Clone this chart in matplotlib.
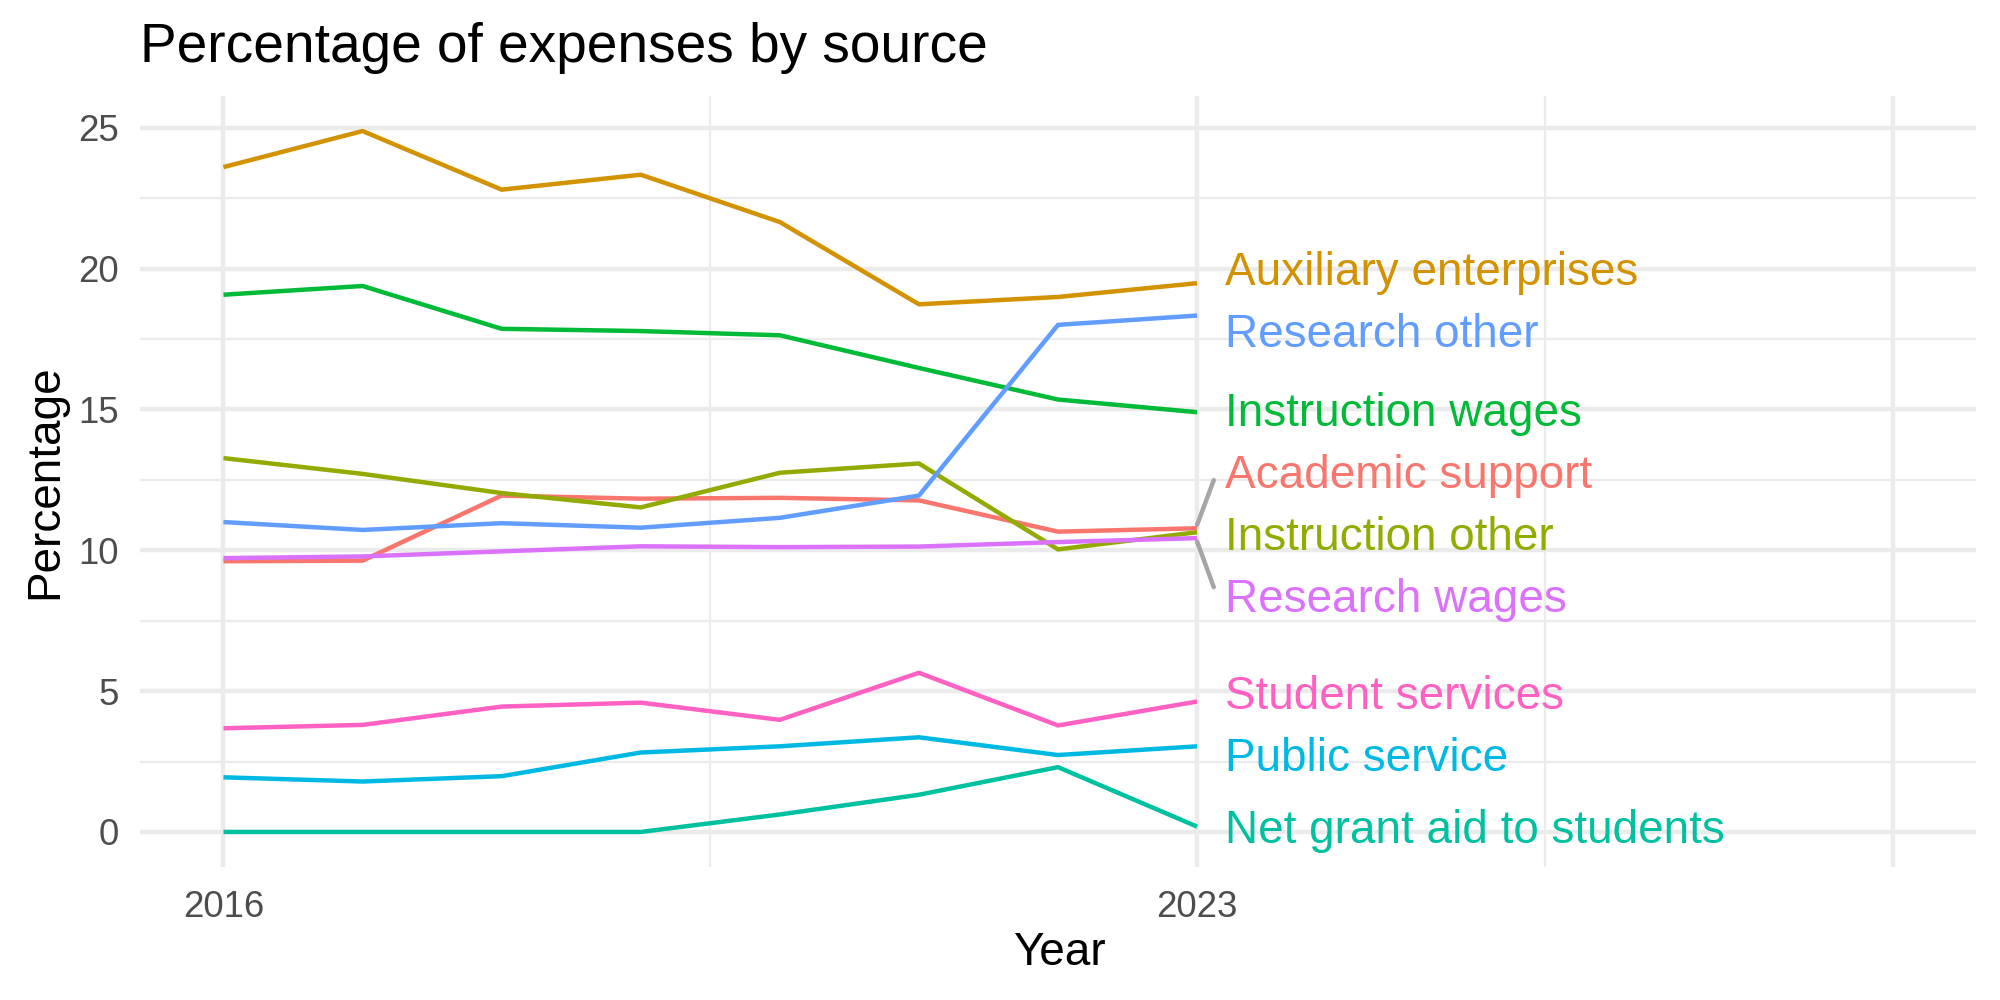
import numpy as np
import matplotlib
matplotlib.use("Agg")
import matplotlib.pyplot as plt

plt.rcParams['font.family'] = ['Liberation Sans', 'DejaVu Sans']

years = [2016, 2017, 2018, 2019, 2020, 2021, 2022, 2023]

academic_support = [9.61, 9.63, 11.94, 11.83, 11.86, 11.77, 10.66, 10.78]
auxiliary_enterprises = [23.60, 24.88, 22.80, 23.33, 21.65, 18.73, 18.99, 19.48]
instruction_other = [13.27, 12.71, 12.03, 11.52, 12.75, 13.08, 10.03, 10.64]
instruction_wages = [19.07, 19.38, 17.86, 17.78, 17.63, 16.47, 15.35, 14.90]
net_grant_aid = [0.0, 0.0, 0.0, 0.0, 0.62, 1.32, 2.30, 0.19]
public_service = [1.94, 1.79, 1.98, 2.82, 3.04, 3.36, 2.73, 3.04]
research_other = [11.00, 10.72, 10.96, 10.80, 11.15, 11.94, 18.00, 18.33]
research_wages = [9.72, 9.78, 9.96, 10.14, 10.11, 10.13, 10.29, 10.43]
student_services = [3.68, 3.80, 4.45, 4.59, 3.98, 5.65, 3.78, 4.63]

series_names = ["Academic support", "Auxiliary enterprises", "Instruction other",
                "Instruction wages", "Net grant aid to students", "Public service",
                "Research other", "Research wages", "Student services"]
series_values = [academic_support, auxiliary_enterprises, instruction_other,
                 instruction_wages, net_grant_aid, public_service,
                 research_other, research_wages, student_services]
colors = ["#F8766D", "#D39200", "#93AA00", "#00BA38", "#00C19F",
          "#00B9E3", "#619CFF", "#DB72FB", "#FF61C3"]

x_breaks = [2016, 2023, 2028]
x_labels = ["2016", "2023", ""]
x_minor = [2019.5, 2025.5]
y_breaks = [0, 5, 10, 15, 20, 25]
y_minor = [2.5, 7.5, 12.5, 17.5, 22.5]

fig = plt.figure(figsize=(2000 / 300, 1000 / 300), dpi=300)
ax = fig.add_axes([0.070, 0.133, 0.918, 0.771])

for name, vals, col in zip(series_names, series_values, colors):
    ax.plot(years, vals, color=col, lw=1.07, zorder=3, solid_capstyle='butt')

# limits with ggplot-like 5% expansion
xlo, xhi = 2016, 2028
ymax = max(max(v) for v in series_values)
ymin = min(min(v) for v in series_values)
ax.set_xlim(xlo - 0.05 * (xhi - xlo), xhi + 0.05 * (xhi - xlo))
ax.set_ylim(ymin - 0.05 * (ymax - ymin), ymax + 0.05 * (ymax - ymin))

ax.set_xticks(x_breaks, labels=x_labels)
ax.set_xticks(x_minor, minor=True)
ax.set_yticks(y_breaks, labels=[str(v) for v in y_breaks])
ax.set_yticks(y_minor, minor=True)
ax.grid(which='major', color='#EBEBEB', lw=1.07, zorder=0)
ax.grid(which='minor', color='#EBEBEB', lw=0.53, zorder=0)
ax.set_axisbelow(True)
for s in ax.spines.values():
    s.set_visible(False)
ax.tick_params(which='both', length=0)
ax.tick_params(axis='y', pad=5, labelsize=8.8, labelcolor='#4D4D4D')
ax.tick_params(axis='x', pad=5.5, labelsize=8.8, labelcolor='#4D4D4D')

# simple repel of end labels
end_vals = np.array([v[-1] for v in series_values])
gap = 2.2
order = list(np.argsort(end_vals))
clusters = [[i] for i in order]


def cluster_pos(c):
    c_sorted = sorted(c, key=lambda i: end_vals[i])
    center = np.mean(end_vals[c_sorted])
    n = len(c_sorted)
    return {i: center + (k - (n - 1) / 2) * gap for k, i in enumerate(c_sorted)}


changed = True
while changed:
    changed = False
    for j in range(len(clusters) - 1):
        p1 = cluster_pos(clusters[j])
        p2 = cluster_pos(clusters[j + 1])
        if min(p2.values()) - max(p1.values()) < gap - 1e-9:
            clusters[j] = clusters[j] + clusters[j + 1]
            del clusters[j + 1]
            changed = True
            break

label_y = {}
for c in clusters:
    label_y.update(cluster_pos(c))

x_end = years[-1]
label_x = x_end + 0.2
for i, (name, col) in enumerate(zip(series_names, colors)):
    ly = label_y[i]
    ax.annotate(name, xy=(label_x, ly), xytext=(0, -3.94), textcoords='offset points',
                ha='left', va='baseline', fontsize=11, color=col,
                annotation_clip=False, zorder=4)
    moved = ly - end_vals[i]
    if abs(moved) > 1.0:
        sgn = np.sign(moved)
        ax.plot([x_end, label_x - 0.08], [end_vals[i] + sgn * 0.12, ly - sgn * 0.3],
                color='#A6A6A6', lw=1.07, zorder=2, clip_on=False,
                solid_capstyle='round')

fig.text(0.070, 0.938, "Percentage of expenses by source", fontsize=13.2,
         ha='left', va='baseline', color='black')
fig.text(0.5295, 0.035, "Year", fontsize=11, ha='center', va='baseline')
fig.text(0.0285, 0.5185, "Percentage", fontsize=11, rotation=90,
         rotation_mode='anchor', ha='center', va='baseline')

fig.savefig("out.png", dpi=300, facecolor='white')
